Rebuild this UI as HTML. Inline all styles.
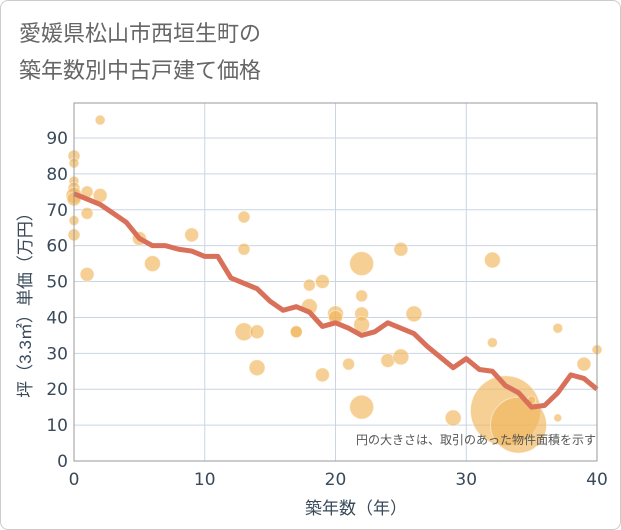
<!DOCTYPE html>
<html><head><meta charset="utf-8"><style>
body{margin:0;background:#fff;font-family:"Liberation Sans","Noto Sans CJK JP",sans-serif;}
#wrap{position:relative;width:619px;height:528px;border:1px solid #ccc;border-radius:8px;overflow:hidden;}
</style></head><body>
<div id="wrap">
<svg id="chart" width="619" height="528">
<text x="18" y="40" font-size="22" fill="#666" font-family="Liberation Sans, Noto Sans CJK JP, sans-serif">愛媛県松山市西垣生町の</text>
<text x="18" y="77" font-size="22" fill="#666" font-family="Liberation Sans, Noto Sans CJK JP, sans-serif">築年数別中古戸建て価格</text>
<g id="grid"></g><g id="bubbles"></g><g id="line"></g><g id="axes"></g>
<text x="595" y="443" font-size="12" fill="#555" text-anchor="end" font-family="Liberation Sans, Noto Sans CJK JP, sans-serif">円の大きさは、取引のあった物件面積を示す</text>
<text x="355" y="513" font-size="17" fill="#3a4a5a" text-anchor="middle" font-family="Liberation Sans, Noto Sans CJK JP, sans-serif">築年数（年）</text>
<text transform="translate(30,300) rotate(-90)" font-size="17" fill="#3a4a5a" text-anchor="middle" font-family="Liberation Sans, Noto Sans CJK JP, sans-serif">坪（3.3㎡）単価（万円）</text>
</svg></div>
<script>
const xTicks=[0,10,20,30,40];
const yTicks=[0,10,20,30,40,50,60,70,80,90];
const bubbleAge=[0,0,0,0,0,0,0,0,1,1,1,2,2,5,6,9,13,13,13,14,14,17,17,18,18,19,19,20,20,21,22,22,22,22,22,24,25,25,26,29,32,32,33,34,35,37,37,39,40];
const bubblePrice=[85,83,78,76,74,73,67,63,75,69,52,95,74,62,55,63,68,59,36,36,26,36,36,49,43,50,24,41,40,27,55,46,41,38,15,28,59,29,41,12,56,33,14,10,17,37,12,27,31];
const bubbleSize=[6,5,5,6,8,7,5,6,6,6,7,5,7,7,8,7,6,6,9,7,8,6,6,6,8,7,7,8,7,6,12,6,7,8,12,7,7,8,8,8,8,5,35,28,4,5,4,7,5];
const lineAge=[0,1,2,3,4,5,6,7,8,9,10,11,12,13,14,15,16,17,18,19,20,21,22,23,24,25,26,27,28,29,30,31,32,33,34,35,36,37,38,39,40];
const linePrice=[74.5,73,71.5,69,66.5,62,60,60,59,58.5,57,57,51,49.5,48,44.5,42,43,41.5,37.5,38.5,37,35,36,38.5,37,35.5,32,29,26,28.5,25.5,25,21,19,15,15.5,19,24,23,20];
const X0=73,X1=596,Y0=460,YTOP=102;
const sx=v=>X0+(X1-X0)*v/40;
const sy=v=>Y0-(Y0-137)*v/90;
const NS="http://www.w3.org/2000/svg";
function mk(t,p,a){const e=document.createElementNS(NS,t);for(const k in a)e.setAttribute(k,a[k]);p.appendChild(e);return e;}
const grid=document.getElementById('grid'),axes=document.getElementById('axes');
yTicks.forEach(v=>{const l=mk('line',grid,{x1:X0,x2:X1,y1:sy(v),y2:sy(v),stroke:'#c9d5e3','stroke-width':1});


const t=mk('text',axes,{x:X0-6,y:sy(v)+6,'font-size':17,fill:'#3a4a5a','text-anchor':'end','font-family':'DejaVu Sans, sans-serif'});t.textContent=v;

});
xTicks.forEach(v=>{const l=mk('line',grid,{x1:sx(v),x2:sx(v),y1:YTOP,y2:Y0,stroke:'#c9d5e3','stroke-width':1});


const t=mk('text',axes,{x:sx(v),y:Y0+24,'font-size':17,fill:'#3a4a5a','text-anchor':'middle','font-family':'DejaVu Sans, sans-serif'});t.textContent=v;

});
const fr=mk('rect',axes,{x:X0,y:YTOP,width:X1-X0,height:Y0-YTOP,fill:'none',stroke:'#999','stroke-width':1});


const bg=document.getElementById('bubbles');
bubbleAge.forEach((a,i)=>{const c=mk('circle',bg,{cx:sx(a),cy:sy(bubblePrice[i]),r:bubbleSize[i],fill:'#f0b65a','fill-opacity':0.65,stroke:'#fff','stroke-opacity':0.5});

});
const pts=lineAge.map((a,i)=>sx(a)+','+sy(linePrice[i])).join(' ');
const pl=mk('polyline',document.getElementById('line'),{points:pts,fill:'none',stroke:'#d9705a','stroke-width':5,'stroke-linejoin':'round'});


</script></body></html>
